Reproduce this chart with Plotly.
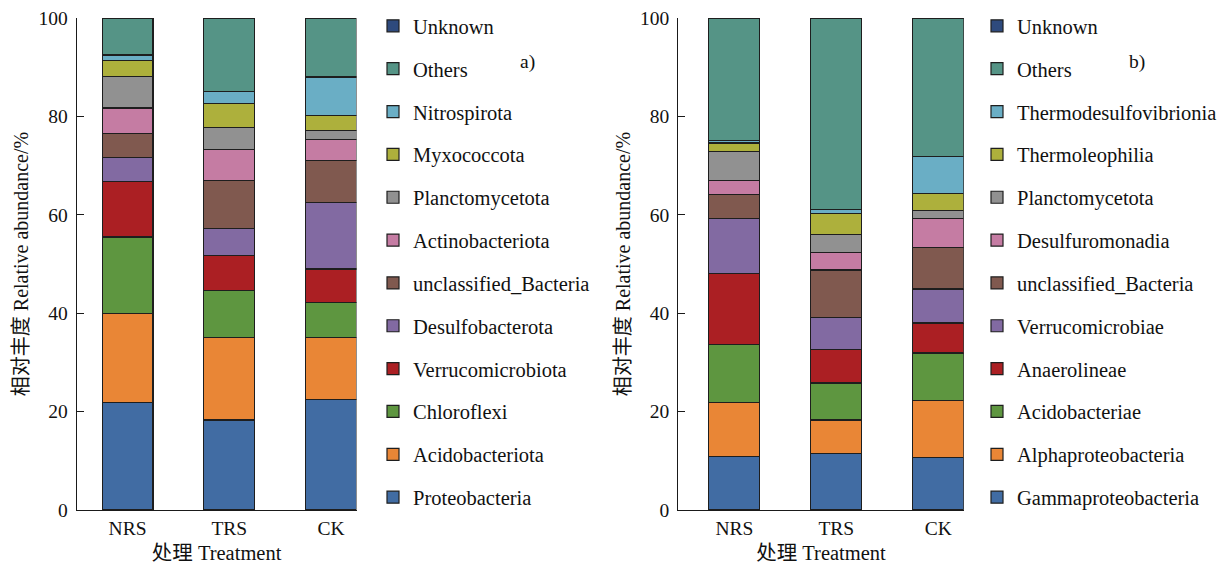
import plotly.graph_objects as go

# Treatments shown on the x axis of both panels
treatments = ["NRS", "TRS", "CK"]

# Panel a) phylum level, listed bottom of the stack to top (%)
phylum_names = [
    "Proteobacteria", "Acidobacteriota", "Chloroflexi", "Verrucomicrobiota",
    "Desulfobacterota", "unclassified_Bacteria", "Actinobacteriota",
    "Planctomycetota", "Myxococcota", "Nitrospirota", "Others", "Unknown",
]
proteobacteria = [21.9, 18.3, 22.4]
acidobacteriota = [18.1, 16.8, 12.7]
chloroflexi = [15.5, 9.5, 7.0]
verrucomicrobiota = [11.2, 7.1, 6.9]
desulfobacterota = [4.9, 5.5, 13.5]
unclassified_a = [5.0, 9.7, 8.5]
actinobacteriota = [5.1, 6.3, 4.3]
planctomycetota_a = [6.4, 4.5, 1.9]
myxococcota = [3.3, 5.0, 3.0]
nitrospirota = [1.1, 2.3, 7.8]
others_a = [7.5, 15.0, 12.0]
unknown_a = [0.0, 0.0, 0.0]

# Panel b) class level, listed bottom of the stack to top (%)
class_names = [
    "Gammaproteobacteria", "Alphaproteobacteria", "Acidobacteriae", "Anaerolineae",
    "Verrucomicrobiae", "unclassified_Bacteria", "Desulfuromonadia",
    "Planctomycetota", "Thermoleophilia", "Thermodesulfovibrionia", "Others", "Unknown",
]
gammaproteobacteria = [10.8, 11.5, 10.6]
alphaproteobacteria = [11.0, 6.8, 11.6]
acidobacteriae = [11.9, 7.5, 9.7]
anaerolineae = [14.4, 6.9, 6.1]
verrucomicrobiae = [11.2, 6.5, 6.9]
unclassified_b = [4.9, 9.6, 8.5]
desulfuromonadia = [2.7, 3.6, 5.8]
planctomycetota_b = [6.0, 3.6, 1.6]
thermoleophilia = [1.7, 4.2, 3.5]
thermodesulfovibrionia = [0.5, 0.9, 7.5]
others_b = [24.9, 38.9, 28.2]
unknown_b = [0.0, 0.0, 0.0]

phylum_values = [
    proteobacteria, acidobacteriota, chloroflexi, verrucomicrobiota,
    desulfobacterota, unclassified_a, actinobacteriota, planctomycetota_a,
    myxococcota, nitrospirota, others_a, unknown_a,
]
class_values = [
    gammaproteobacteria, alphaproteobacteria, acidobacteriae, anaerolineae,
    verrucomicrobiae, unclassified_b, desulfuromonadia, planctomycetota_b,
    thermoleophilia, thermodesulfovibrionia, others_b, unknown_b,
]

# Shared palette, bottom of the stack to top
palette = [
    "#416CA3", "#E98636", "#5E9640", "#AB1F23", "#826AA2", "#80594F",
    "#C57CA3", "#919191", "#ADB03C", "#6AAEC5", "#559486", "#2E4A7D",
]

FONT = "Liberation Serif, Times New Roman, Noto Sans CJK SC, serif"
W, H = 1226, 566

fig = go.Figure()


def add_panel(names, values, xaxis, yaxis, legend, tag):
    n = len(names)
    for i, (name, vals) in enumerate(zip(names, values)):
        fig.add_trace(go.Bar(
            x=treatments, y=vals, name=name,
            xaxis=xaxis, yaxis=yaxis, legend=legend,
            legendgroup=f"{tag}{i}", legendrank=n - i,
            width=0.5,
            marker=dict(color=palette[i], line=dict(color="#1e1e1e", width=1.2)),
            hovertemplate="%{x}: %{y}%<extra>" + name + "</extra>",
        ))


add_panel(phylum_names, phylum_values, "x", "y", "legend", "a")
add_panel(class_names, class_values, "x2", "y2", "legend2", "b")

y_dom = [(H - 510) / H, (H - 18) / H]
axis_common = dict(
    showline=True, linecolor="#1a1a1a", linewidth=1.2, showgrid=False, zeroline=False,
    tickfont=dict(family=FONT, size=19.5, color="#111"),
)
yaxis_common = dict(
    axis_common, range=[0, 100], tickvals=[0, 20, 40, 60, 80, 100],
    ticks="inside", ticklen=7, tickwidth=1.2, tickcolor="#1a1a1a",
    ticklabelstandoff=4,
    title=dict(text="相对丰度 Relative abundance/%", font=dict(family=FONT, size=20, color="#111"),
               standoff=4),
)
xaxis_common = dict(
    axis_common, ticks="",
    title=dict(text="处理 Treatment", font=dict(family=FONT, size=20.5, color="#111"), standoff=8),
)

legend_common = dict(
    yanchor="top", xanchor="left", orientation="v",
    font=dict(family=FONT, size=20.5, color="#111"),
    tracegroupgap=13.2, traceorder="grouped", bgcolor="rgba(0,0,0,0)",
)

panel_label = dict(xref="paper", yref="paper", xanchor="center", yanchor="middle",
                   showarrow=False, font=dict(family=FONT, size=19.5, color="#111"))

fig.update_layout(
    width=W, height=H, margin=dict(l=0, r=0, t=0, b=0, autoexpand=False),
    paper_bgcolor="white", plot_bgcolor="white",
    barmode="stack", bargap=0.5,
    xaxis=dict(xaxis_common, domain=[76.7 / W, 356.5 / W], range=[-0.5, 2.25], anchor="y"),
    yaxis=dict(yaxis_common, domain=y_dom, anchor="x"),
    xaxis2=dict(xaxis_common, domain=[678.3 / W, 963.7 / W], range=[-0.55, 2.25], anchor="y2"),
    yaxis2=dict(yaxis_common, domain=y_dom, anchor="x2"),
    legend=dict(legend_common, x=373 / W, y=1 - 6 / H),
    legend2=dict(legend_common, x=977 / W, y=1 - 6 / H),
    annotations=[
        dict(panel_label, text="a)", x=527 / W, y=1 - 62 / H),
        dict(panel_label, text="b)", x=1137 / W, y=1 - 62 / H),
    ],
)

fig.write_html("out.html")
